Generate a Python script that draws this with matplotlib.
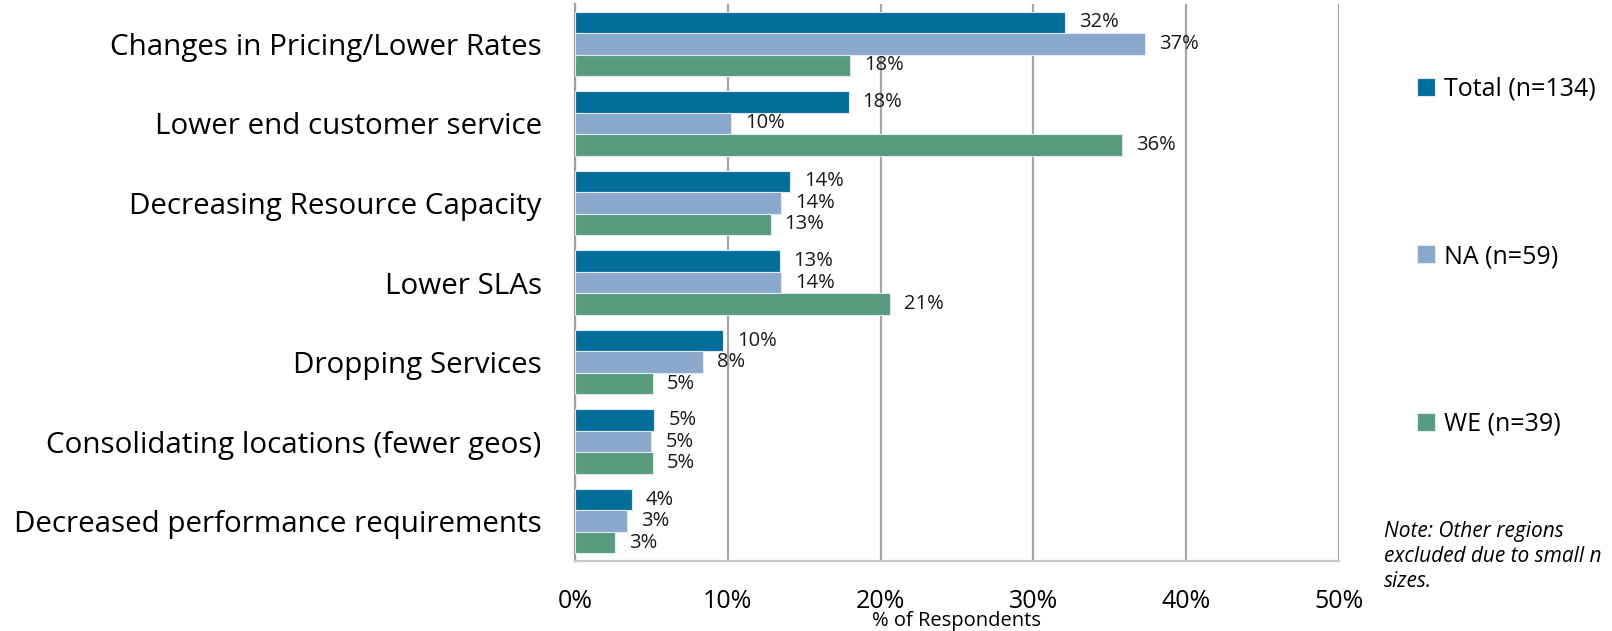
import matplotlib as mpl
mpl.use('Agg')
import matplotlib.pyplot as plt
import numpy as np

plt.rcParams['font.family'] = ['Open Sans', 'DejaVu Sans']

categories = ["Changes in Pricing/Lower Rates",
              "Lower end customer service",
              "Decreasing Resource Capacity",
              "Lower SLAs",
              "Dropping Services",
              "Consolidating locations (fewer geos)",
              "Decreased performance requirements"]
series_names = ["Total (n=134)", "NA (n=59)", "WE (n=39)"]
total = [32.1, 17.9, 14.1, 13.4, 9.7, 5.2, 3.7]
na = [37.3, 10.2, 13.5, 13.5, 8.4, 5.0, 3.4]
we = [18.0, 35.8, 12.8, 20.6, 5.1, 5.1, 2.6]
colors = ['#046e9b', '#8aa8cb', '#569b7f']

width = 16.12
height = 6.31

fig = plt.figure(figsize=(width, height), dpi=100)
ax = fig.add_axes([575 / 1612, (631 - 561) / 631, (1339 - 575) / 1612, (561 - 4) / 631])

y = np.arange(len(categories))
bh = 0.27
for k, (vals, name) in enumerate(zip([total, na, we], series_names)):
    pos = y + (k - 1) * bh
    ax.barh(pos, vals, height=bh, color=colors[k], label=name,
            edgecolor='#dfe9ef', linewidth=0.8, zorder=3)
    for p, v in zip(pos, vals):
        ax.annotate("%d%%" % round(v), (v, p), xytext=(10, 0), textcoords='offset points',
                    ha='left', va='center', fontsize=14.5, color='#1a1a1a')

ax.set_xlim(0, 50)
ax.set_ylim(6.5, -0.5)
ax.set_xticks(np.arange(0, 51, 10))
ax.set_xticklabels(["%d%%" % t for t in range(0, 51, 10)], fontsize=18)
ax.set_yticks(y)
ax.set_yticklabels(categories, fontsize=21.3)
ax.tick_params(axis='x', length=0, pad=20)
ax.tick_params(axis='y', length=0, pad=24)
ax.grid(axis='x', color='#a6a6a6', linewidth=1.6, zorder=0)
for s in ['top', 'right']:
    ax.spines[s].set_visible(False)
ax.spines['left'].set_color('#a0a0a0')
ax.spines['left'].set_linewidth(1.6)
ax.spines['bottom'].set_color('#c8c8c8')
ax.spines['bottom'].set_linewidth(1.6)

fig.text(957 / 1612, (631 - 621) / 631, "% of Respondents", ha='center', va='center', fontsize=14.5)

fig.legend(loc='upper left', bbox_to_anchor=(1394 / 1612, 1 - 54 / 631), frameon=False,
           fontsize=18, labelspacing=5.7, handlelength=0.75, handleheight=0.75,
           handletextpad=0.35)

fig.text(1384 / 1612, (631 - 521) / 631,
         "Note: Other regions\nexcluded due to small n\nsizes.",
         ha='left', va='top', fontsize=15, style='italic', linespacing=1.25)

fig.savefig('out.png', dpi=100)
